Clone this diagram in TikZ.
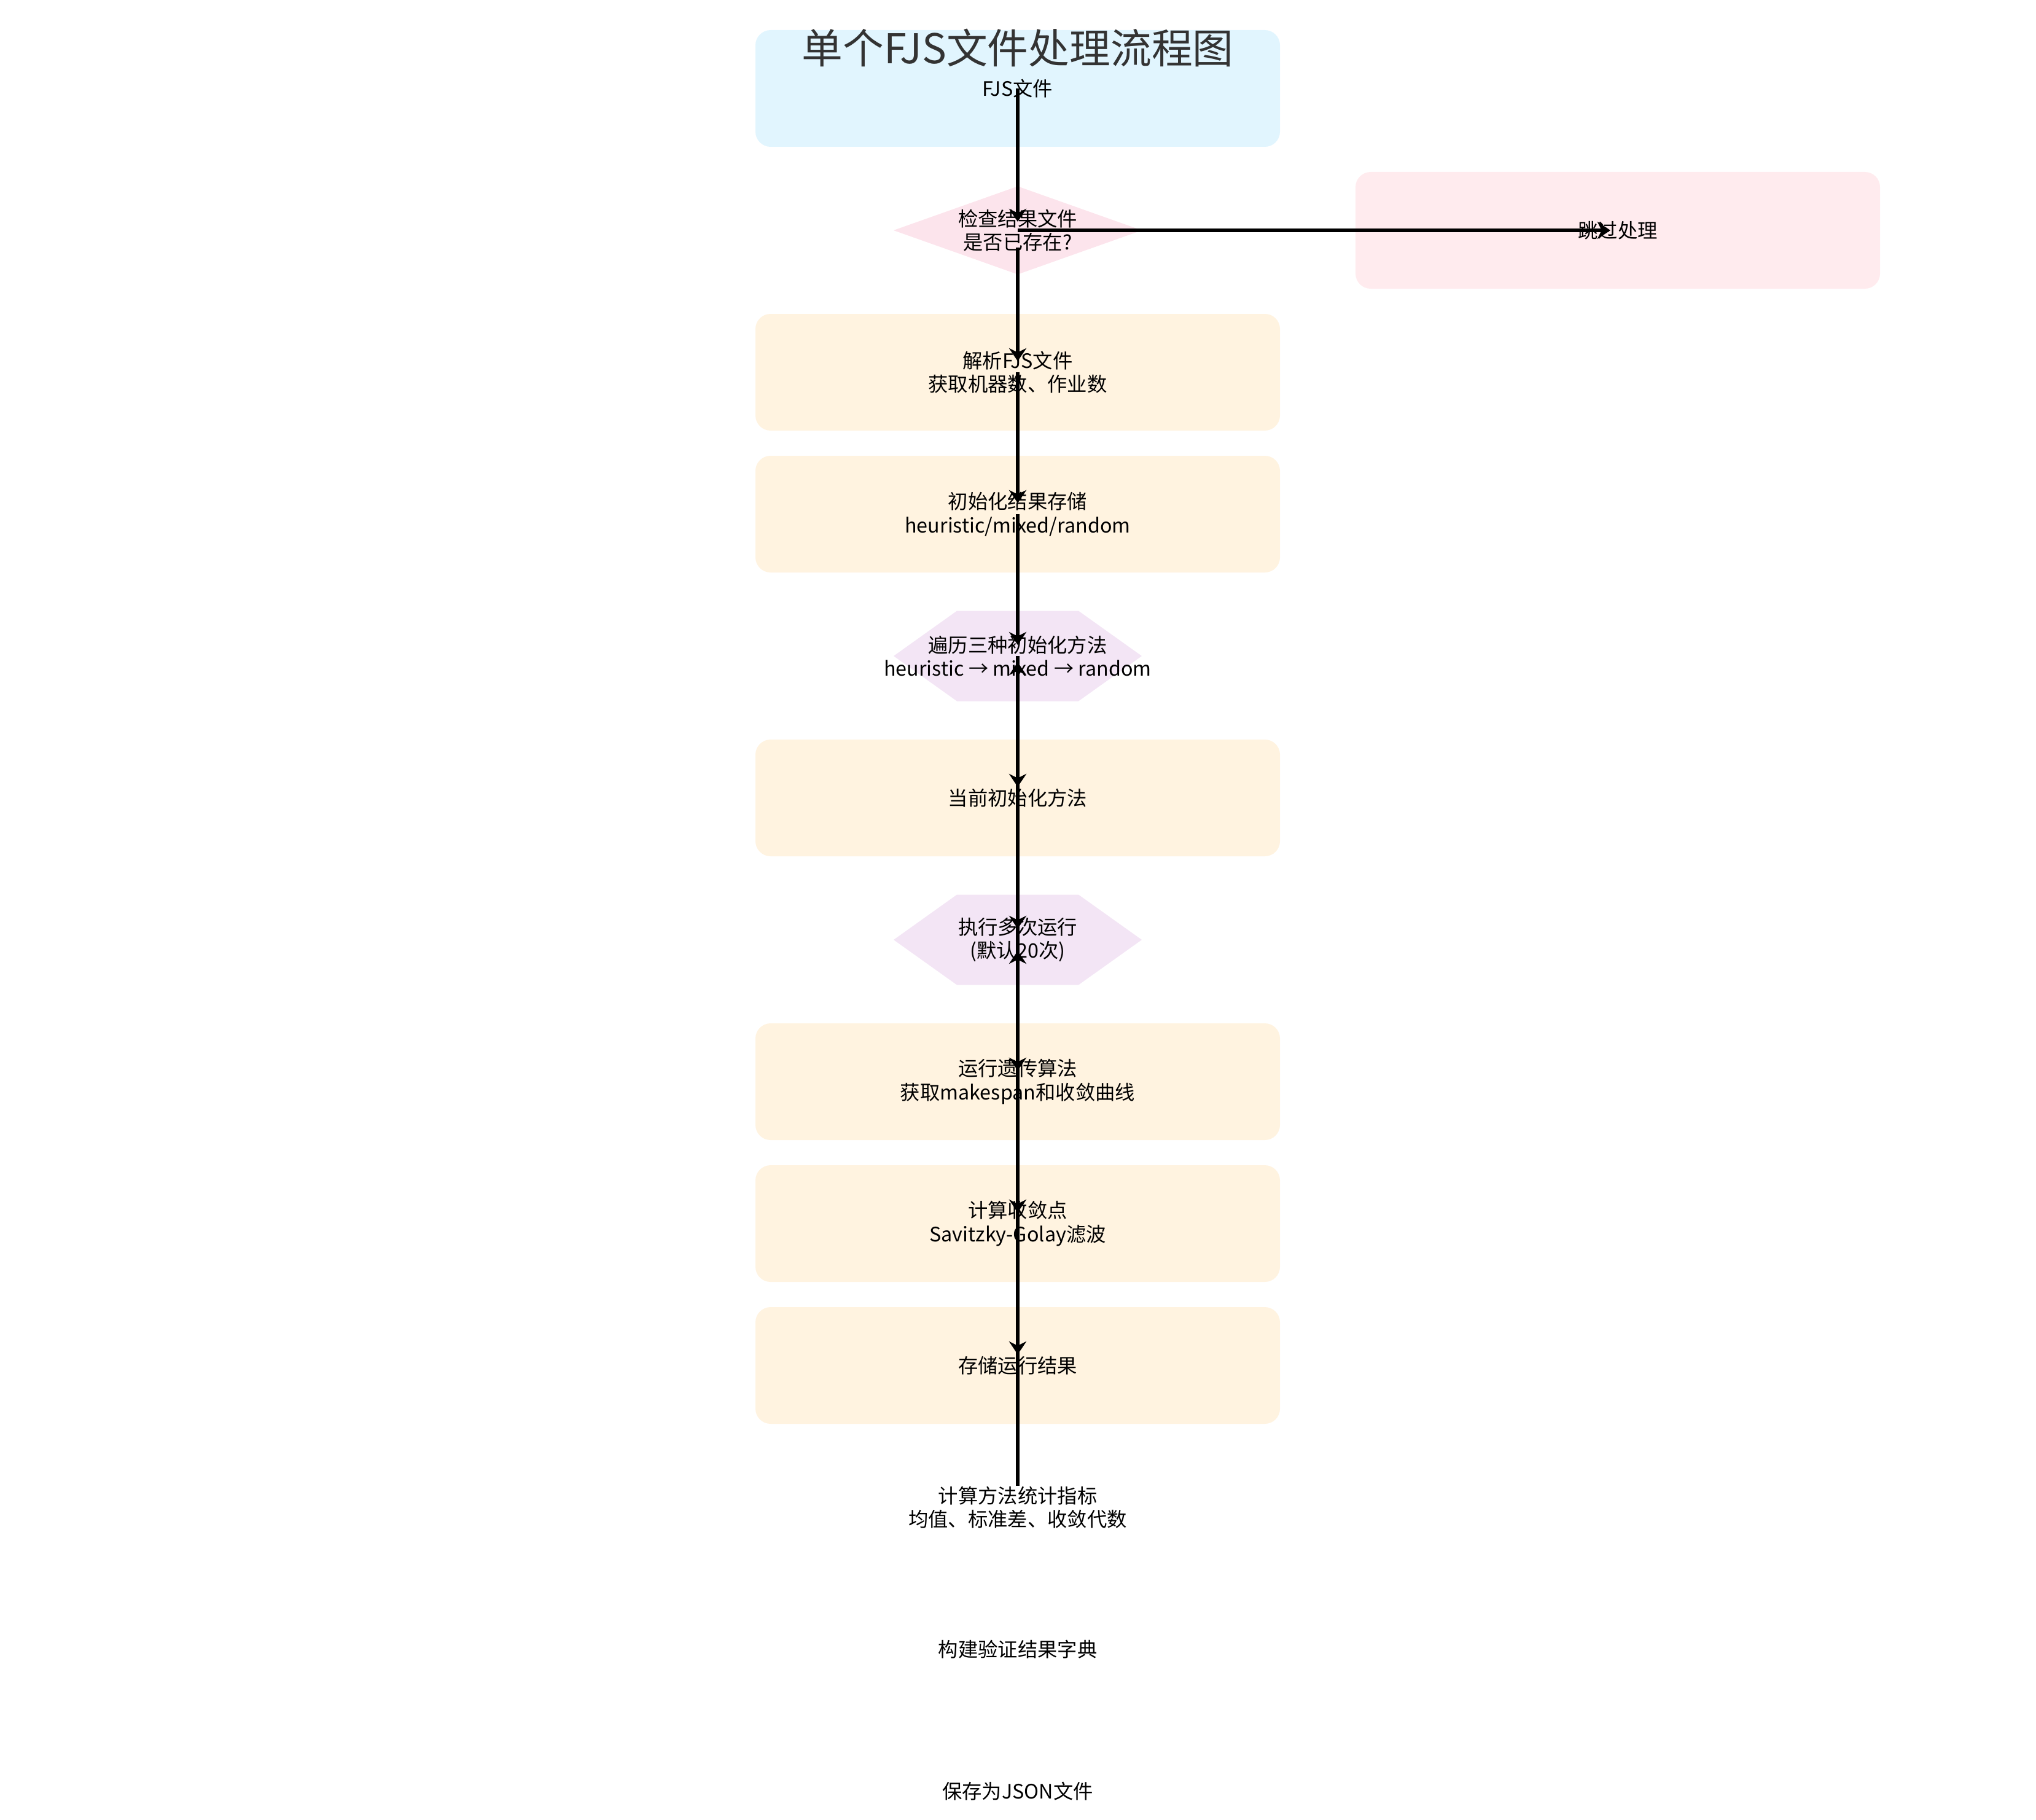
\documentclass[tikz,border=0pt]{standalone}
\usepackage{fontspec}
\setmainfont{Noto Sans CJK SC}
\usetikzlibrary{arrows.meta,shapes.geometric,shapes.symbols}
\definecolor{startblue}{HTML}{E1F5FE}
\definecolor{checkpink}{HTML}{FCE4EC}
\definecolor{skipred}{HTML}{FFEBEE}
\definecolor{procorange}{HTML}{FFF3E0}
\definecolor{looppurple}{HTML}{F3E5F5}
\definecolor{titlegray}{HTML}{333333}
\tikzset{
  nodefont/.style={font=\fontsize{9.2}{11}\selectfont, align=center, inner sep=0pt},
  procbox/.style={nodefont, fill=procorange, rounded corners=7pt, minimum width=8.54cm, minimum height=1.9cm},
  startbox/.style={procbox, fill=startblue},
  skipbox/.style={procbox, fill=skipred},
  checknode/.style={nodefont, diamond, aspect=2.8, fill=checkpink, minimum width=4.05cm, minimum height=1.44cm},
  loopnode/.style={signal, signal to=west and east, signal pointer angle=71, fill=looppurple, inner sep=0pt, minimum width=4.04cm, minimum height=1.47cm},
  plaintext/.style={nodefont},
  flow/.style={-{Stealth[length=6pt,width=8pt]}, line width=1.6pt, black, shorten >=0.18cm},
}

\begin{document}
\begin{tikzpicture}
        \useasboundingbox (0,0) rectangle (33.15,-29.62);
        \def\cx{16.57}
        \def\dy{2.31}
        % main column
        \node[startbox] (start) at (\cx,-1.44) {FJS文件};
        \node[checknode] (chk) at (\cx,{-1.44-\dy}) {检查结果文件\\是否已存在?};
        \node[skipbox] (skip) at (26.34,{-1.44-\dy}) {跳过处理};
        \foreach \nm/\row/\sty/\txt in {%
          parse/2/procbox/{解析FJS文件\\获取机器数、作业数},
          init/3/procbox/{初始化结果存储\\heuristic/mixed/random},
          cur/5/procbox/{当前初始化方法},
          ga/7/procbox/{运行遗传算法\\获取makespan和收敛曲线},
          conv/8/procbox/{计算收敛点\\Savitzky-Golay滤波},
          store/9/procbox/{存储运行结果},
          stats/10/plaintext/{计算方法统计指标\\均值、标准差、收敛代数},
          dict/11/plaintext/{构建验证结果字典},
          save/12/plaintext/{保存为JSON文件}} {
          \pgfmathsetmacro{\y}{-1.44-\dy*\row}
          \node[\sty] (\nm) at (\cx,\y) {\txt};
        }
        % loops (text may run past the shape)
        \node[loopnode, label={[nodefont]center:遍历三种初始化方法\\heuristic → mixed → random}] (iter) at (\cx,{-1.44-4*\dy}) {};
        \node[loopnode, label={[nodefont]center:执行多次运行\\(默认20次)}] (runs) at (\cx,{-1.44-6*\dy}) {};
        \node[font=\fontsize{19}{23}\selectfont, text=titlegray, inner sep=0pt] (title) at (\cx,-0.78) {单个FJS文件处理流程图};
        % connectors
        \draw[flow, shorten >=0.14cm] (start.center) -- (chk.center);
        \draw[flow, shorten >=0.12cm] (chk.center) -- (skip.center);
        \draw[flow, shorten <=0.28cm] (chk.center) -- (parse.center);
        \foreach \a/\b in {parse/init, init/iter, iter/cur, cur/runs, runs/ga, ga/conv, conv/store} {
          \draw[flow] (\a.center) -- (\b.center);
        }
        % loop backs
        \draw[flow] (store.center) -- (runs.center);
        \draw[flow, shorten >=0.1cm] (stats.north) -- (iter.center);
      \end{tikzpicture}
\end{document}
